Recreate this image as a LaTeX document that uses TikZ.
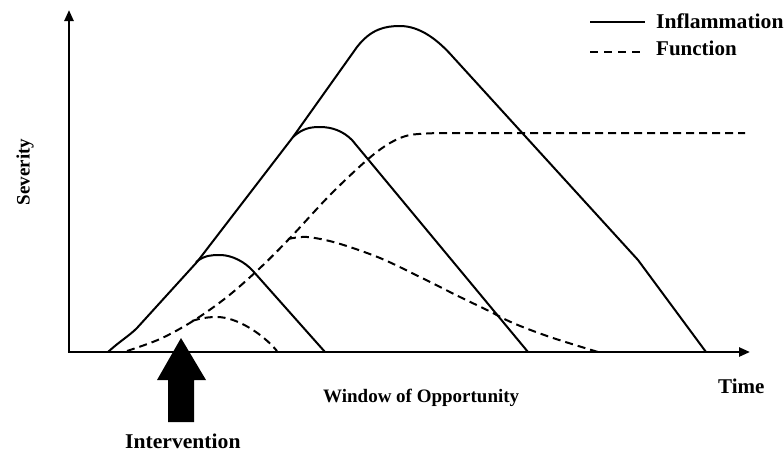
\documentclass[tikz,border=0pt]{standalone}
\usepackage{fontspec}
\setmainfont{Liberation Serif}
\usetikzlibrary{arrows.meta}
\tikzset{
  axisline/.style={line width=2.4pt, -{Triangle[length=11pt,width=9pt]}},
  inflam/.style={line width=2pt, line join=round},
  func/.style={line width=2pt, dash pattern=on 8pt off 5pt},
  lbl/.style={inner sep=0pt, anchor=base west, font=\bfseries\fontsize{21}{23}\selectfont},
  bigarrow/.style={fill=black, draw=none}
}
\newcommand{\wid}[2]{\scalebox{#1}[1]{#2}}
\begin{document}
\begin{tikzpicture}[x=1pt,y=-1pt]
\useasboundingbox (0,0) rectangle (784,453);
% axes
\coordinate (O) at (69,352);
\coordinate (ytop) at (69,10);
\coordinate (xend) at (750,352);
\draw[axisline] (O) -- (ytop);
\draw[axisline] ([xshift=-1.2pt]O) -- (xend);

% Inflammation: large
\draw[inflam] (108,352) .. controls (120,341) and (129,336) .. (137,328)
  -- (197,262) -- (293,137) -- (357,47)
  .. controls (371,29) and (385,26) .. (400,26)
  .. controls (420,26) and (438,40) .. (453,57)
  -- (638,260) -- (706,352);
% Inflammation: medium
\draw[inflam] (293,137) .. controls (303,128) and (311,127) .. (320,127)
  .. controls (332,127) and (343,131) .. (352,140) -- (528,352);
% Inflammation: small
\draw[inflam] (196,262) .. controls (205,255) and (212,255) .. (220,255)
  .. controls (232,255) and (245,262) .. (253,271) -- (325,352);

% Function: rising to plateau
\draw[func] plot[smooth, tension=0.55] coordinates
  {(127,351) (160,339) (193,321) (227,297) (260,268) (290,238) (330,195) (367,160) (390,143) (410,135) (440,133)}
  -- (745,133);
% Function: small bump
\draw[func] (192,321) .. controls (201,318) and (209,317) .. (217,317)
  .. controls (236,317) and (262,333) .. (277,351);
% Function: medium bump
\draw[func] plot[smooth, tension=0.55] coordinates
  {(288,239) (307,237) (337,243) (380,258) (420,277) (460,297) (487,310) (513,323) (550,337) (598,352)};

% Intervention block arrow
\fill[bigarrow] (168,422) -- (194,422) -- (194,380) -- (206,380) -- (181,338)
  -- (157,380) -- (168,380) -- cycle;

% legend
\coordinate (l1a) at (590,22);
\coordinate (l1b) at (645,22);
\coordinate (l2a) at (590,52);
\coordinate (l2b) at (643,52);
\draw[inflam] (l1a) -- (l1b);
\draw[func, dash pattern=on 8pt off 6pt] (l2a) -- (l2b);
\node[lbl] (tinfl) at (656,28) {\wid{1.03}{Inflammation}};
\node[lbl] (tfunc) at (656,55) {Function};

% labels
\node[inner sep=0pt, rotate=90, font=\bfseries\fontsize{19}{21}\selectfont] (tsev) at (25,172) {Severity};
\node[lbl] (ttime) at (718,393) {Time};
\node[lbl, font=\bfseries\fontsize{19}{21}\selectfont] (twin) at (323,402) {Window of Opportunity};
\node[lbl] (tint) at (125,448) {\wid{1.03}{Intervention}};
\end{tikzpicture}
\end{document}
